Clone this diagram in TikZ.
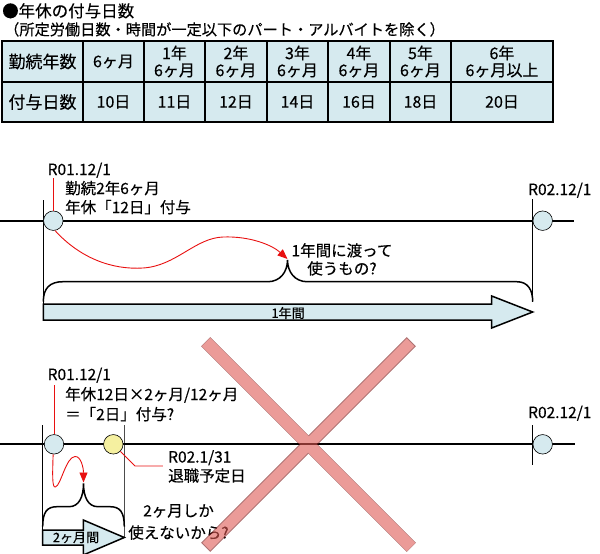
\documentclass[tikz,border=0pt]{standalone}
\usepackage{fontspec}
\setmainfont{Noto Sans CJK JP}[FakeBold=0.35]
\usetikzlibrary{arrows.meta}
\definecolor{cellblue}{RGB}{214,234,239}
\definecolor{dotyellow}{RGB}{245,240,160}
\definecolor{xred}{RGB}{222,88,83}
\definecolor{xedge}{RGB}{120,20,20}
\definecolor{lred}{RGB}{232,16,16}
\begin{document}
\begin{tikzpicture}[x=1pt,y=-1pt,
  tcell/.style={draw, line width=1.6pt, fill=cellblue, inner sep=0pt, align=center,
    font=\fontsize{16}{17}\selectfont},
  lbl/.style={inner sep=0pt, font=\fontsize{15.5}{19}\selectfont},
  dotc/.style={circle, draw, line width=0.6pt, fill=cellblue, minimum size=19.5pt, inner sep=0pt},
  dotyel/.style={dotc, fill=dotyellow},
  redline/.style={draw=lred, line width=0.9pt},
  redarrow/.style={redline, -{Triangle[length=10pt,width=8pt]}},
  tline/.style={line width=2.3pt},
  guide/.style={line width=0.8pt},
  brace/.style={line width=1.5pt},
  bigarrow/.style={draw, line width=1.5pt, fill=cellblue, line join=miter},
  xbar/.style={fill=xred, draw=xedge, line width=0.8pt}
]
\useasboundingbox (0,0) rectangle (600,554);

% ---------- title ----------
\node[anchor=north west, inner sep=0pt, font=\fontsize{16.5}{17}\selectfont] (title) at (2,3) {●年休の付与日数};
\node[anchor=north west, inner sep=0pt, font=\fontsize{15.2}{16}\selectfont] (sub) at (4,22) {（所定労働日数・時間が一定以下のパート・アルバイトを除く）};

% ---------- table ----------
\node[tcell, minimum width=81pt, minimum height=41pt, font=\fontsize{17}{17}\selectfont] (h0) at (42.5,61.5) {勤続年数};
\node[tcell, minimum width=61pt, minimum height=41pt] (h1) at (113.5,61.5) {6ヶ月};
\node[tcell, minimum width=61pt, minimum height=41pt] (h2) at (174.5,61.5) {1年\\6ヶ月};
\node[tcell, minimum width=62pt, minimum height=41pt] (h3) at (236,61.5) {2年\\6ヶ月};
\node[tcell, minimum width=61pt, minimum height=41pt] (h4) at (297.5,61.5) {3年\\6ヶ月};
\node[tcell, minimum width=62pt, minimum height=41pt] (h5) at (359,61.5) {4年\\6ヶ月};
\node[tcell, minimum width=61pt, minimum height=41pt] (h6) at (420.5,61.5) {5年\\6ヶ月};
\node[tcell, minimum width=102pt, minimum height=41pt] (h7) at (502,61.5) {6年\\6ヶ月以上};
\node[tcell, minimum width=81pt, minimum height=40pt, font=\fontsize{17}{17}\selectfont] (d0) at (42.5,102) {付与日数};
\node[tcell, minimum width=61pt, minimum height=40pt] (d1) at (113.5,102) {10日};
\node[tcell, minimum width=61pt, minimum height=40pt] (d2) at (174.5,102) {11日};
\node[tcell, minimum width=62pt, minimum height=40pt] (d3) at (236,102) {12日};
\node[tcell, minimum width=61pt, minimum height=40pt] (d4) at (297.5,102) {14日};
\node[tcell, minimum width=62pt, minimum height=40pt] (d5) at (359,102) {16日};
\node[tcell, minimum width=61pt, minimum height=40pt] (d6) at (420.5,102) {18日};
\node[tcell, minimum width=102pt, minimum height=40pt] (d7) at (502,102) {20日};

% ---------- timeline 1 ----------
\draw[guide] (43.3,200) -- (43.3,320);
\draw[guide] (532.7,199) -- (532.7,302);
\draw[tline] (0,220.7) -- (574,220.7);
\node[dotc] (a1) at (53.3,220.7) {};
\node[dotc] (b1) at (542.7,220.7) {};

\node[lbl, anchor=base west] (r1) at (47.5,175) {R01.12/1};
\node[lbl, anchor=base west] (g1) at (65,194) {勤続2年6ヶ月};
\node[lbl, anchor=base west] (g2) at (65,213) {年休「12日」付与};
\node[lbl, anchor=base west] (r2) at (528,195) {R02.12/1};
\draw[redline] (a1.north) -- ++(0,-33);

\draw[brace] (43.3,301.7) .. controls (43.3,288) and (50,281.7) .. (63,281.7)
  -- (268,281.7) .. controls (280,281.7) and (287.5,272) .. (287.5,260)
  .. controls (287.5,272) and (295,281.7) .. (307,281.7)
  -- (516.7,281.7) .. controls (528,281.7) and (532.7,290) .. (532.7,301.7);
\coordinate (tip1) at (287.5,259);
\draw[redarrow] (a1.-80) .. controls (80,258) and (112,270) .. (143,268)
  .. controls (176,266) and (195,238) .. (223,237)
  .. controls (250,236) and (272,245) .. (tip1);

\node[lbl, align=center, anchor=north, font=\fontsize{15.5}{18}\selectfont] (q1) at (342,243) {1年間に渡って\\使うもの?};

\draw[bigarrow] (43.3,304) -- (491.7,304) -- (491.7,296) -- (532.7,312)
  -- (491.7,328) -- (491.7,320) -- (43.3,320) -- cycle;
\node[inner sep=0pt, font=\fontsize{13}{13}\selectfont] (y1) at (288,313) {1年間};

% ---------- timeline 2 ----------
\draw[guide] (42.7,425) -- (42.7,545);
\draw[guide, draw=black!70] (124.3,425) -- (124.3,537);
\draw[guide] (532.7,425) -- (532.7,465);
\draw[tline] (0,444.3) -- (575,444.3);
\node[dotc] (a2) at (54,444.3) {};
\node[dotyel] (c2) at (113.3,444.3) {};
\node[dotc] (b2) at (542.7,444.3) {};

\node[lbl, anchor=base west] (r3) at (47.5,380) {R01.12/1};
\node[lbl, anchor=base west] (g3) at (65,400) {年休12日×2ヶ月/12ヶ月};
\node[lbl, anchor=base west] (g4) at (65,420) {＝「2日」付与?};
\node[lbl, anchor=base west] (r4) at (528,418) {R02.12/1};
\draw[redline] (a2.north) -- ++(0,-49);

\node[lbl, anchor=north west, align=left, font=\fontsize{15.5}{19}\selectfont] (ret) at (168,450) {R02.1/31\\退職予定日};
\draw[redline] (c2.-45) -- ++(14.5,14.6) -- ++(28,0);

\draw[brace] (42.7,526.7) .. controls (42.7,512) and (47,506.7) .. (57,506.7)
  -- (69,506.7) .. controls (79,506.7) and (83.5,497) .. (83.5,483.3)
  .. controls (83.5,497) and (88,506.7) .. (98,506.7)
  -- (110,506.7) .. controls (120,506.7) and (124.3,512) .. (124.3,526.7);
\coordinate (tip2) at (83.5,482.5);
\draw[redarrow] (a2.-95) .. controls (52.5,475) and (52,488) .. (55.5,487)
  .. controls (61,485) and (66,457) .. (75,456.5)
  .. controls (81,456) and (83.5,468) .. (tip2);

\draw[bigarrow] (42.7,530) -- (83.3,530) -- (83.3,520) -- (124.3,537.5)
  -- (83.3,555) -- (83.3,545) -- (42.7,545) -- cycle;
\node[inner sep=0pt, font=\fontsize{13}{13}\selectfont] (y2) at (76,537.5) {2ヶ月間};

\node[lbl, align=center, anchor=north, font=\fontsize{15.5}{22}\selectfont] (q2) at (178.5,504) {2ヶ月しか\\使えないから?};

% ---------- cross ----------
\begin{scope}[transparency group, opacity=0.6]
  \draw[xbar] (210.24,337.76) -- (201.76,346.24) -- (406.76,551.24) -- (415.24,542.76) -- cycle;
  \draw[xbar] (415.24,346.24) -- (406.76,337.76) -- (201.76,542.76) -- (210.24,551.24) -- cycle;
  \fill[xred] (210.24,337.76) -- (201.76,346.24) -- (406.76,551.24) -- (415.24,542.76) -- cycle;
\end{scope}
\end{tikzpicture}
\end{document}
